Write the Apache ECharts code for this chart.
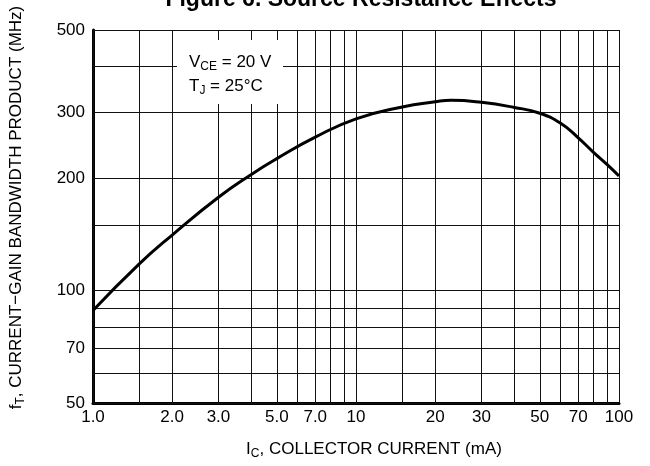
<!DOCTYPE html>
<html>
<head>
<meta charset="utf-8">
<script src="https://cdn.jsdelivr.net/npm/echarts@6/dist/echarts.min.js"></script>
<style>html,body{margin:0;padding:0;background:#fff}#c{width:650px;height:466px}</style>
</head>
<body>
<div id="c"></div>
<script>
// Curve data (IC in mA, fT in MHz)
var currentMA = [1.0, 1.5, 2.0, 3.0, 4.0, 5.0, 7.0, 10, 15, 20, 23, 30, 40, 50, 60, 70, 80, 90, 100];
var ftMHz     = [88.5, 118, 141, 178, 205, 226, 258, 289, 311, 321, 324, 320, 310, 299, 281, 257, 235, 218, 203];

// Grid lines and tick labels
var xGridValues = [1, 1.5, 2, 3, 4, 5, 6, 7, 8, 9, 10, 15, 20, 30, 40, 50, 60, 70, 80, 90, 100];
var yGridValues = [50, 60, 70, 80, 90, 100, 150, 200, 300, 400, 500];
var xTickValues = [1, 2, 3, 5, 7, 10, 20, 30, 50, 70, 100];
var xTickLabels = ['1.0', '2.0', '3.0', '5.0', '7.0', '10', '20', '30', '50', '70', '100'];
var yTickValues = [50, 70, 100, 200, 300, 500];
var yTickLabels = ['50', '70', '100', '200', '300', '500'];

var FONT = '"Liberation Sans", Arial, Helvetica, sans-serif';

var chart = echarts.init(document.getElementById('c'), null, {renderer: 'canvas'});

var gridMarks = [];
xGridValues.forEach(function (v) { gridMarks.push({xAxis: v}); });
yGridValues.forEach(function (v) { gridMarks.push({yAxis: v}); });

var option = {
  backgroundColor: '#fff',
  animation: false,
  title: {
    text: 'Figure 6. Source Resistance Effects',
    left: 356, top: -17, textAlign: 'center',
    textStyle: {fontFamily: FONT, fontWeight: 'bold', fontSize: 23, color: '#000'}
  },
  grid: {left: 87, right: 31, top: 30, bottom: 63},
  xAxis: {
    type: 'log', logBase: 10, min: 1, max: 100,
    name: '{m|I}{s|C}{m|, COLLECTOR CURRENT (mA)}',
    nameLocation: 'middle', nameGap: 36,
    nameTextStyle: {
      padding: [0, 0, 0, 36],
      rich: {
        m: {fontFamily: FONT, fontSize: 17, color: '#000'},
        s: {fontFamily: FONT, fontSize: 12, color: '#000', padding: [9, 0, 0, 0]}
      }
    },
    axisLine: {show: true, onZero: false, lineStyle: {color: '#000', width: 3}},
    axisTick: {show: false},
    splitLine: {show: false},
    minorSplitLine: {show: false},
    axisLabel: {
      customValues: xTickValues,
      formatter: function (v) { var i = xTickValues.indexOf(v); return i >= 0 ? xTickLabels[i] : ''; },
      fontFamily: FONT, fontSize: 17, color: '#000', margin: 6
    }
  },
  yAxis: {
    type: 'log', logBase: 10, min: 50, max: 500,
    name: '{m|f}{s|T}{m|, CURRENT\u2212GAIN BANDWIDTH PRODUCT (MHz)}',
    nameLocation: 'middle', nameGap: 66, nameRotate: 90,
    nameTextStyle: {
      padding: [0, 0, 0, 18],
      rich: {
        m: {fontFamily: FONT, fontSize: 17, color: '#000'},
        s: {fontFamily: FONT, fontSize: 12, color: '#000', padding: [9, 0, 0, 0]}
      }
    },
    axisLine: {show: true, onZero: false, lineStyle: {color: '#000', width: 3}},
    axisTick: {show: false},
    splitLine: {show: false},
    axisLabel: {
      customValues: yTickValues,
      formatter: function (v) { var i = yTickValues.indexOf(v); return i >= 0 ? yTickLabels[i] : ''; },
      fontFamily: FONT, fontSize: 17, color: '#000', margin: 8
    }
  },
  graphic: [
    {type: 'rect', z: 100, zlevel: 1, shape: {x: 177, y: 40, width: 106, height: 64}, style: {fill: '#fff'}},
    {type: 'text', z: 101, zlevel: 1, x: 189, y: 50, style: {
      text: '{m|V}{s|CE}{m| = 20 V}\n{m|T}{s|J}{m| = 25\u00b0C}',
      rich: {
        m: {fontFamily: FONT, fontSize: 17, color: '#000', lineHeight: 24},
        s: {fontFamily: FONT, fontSize: 12, color: '#000', lineHeight: 24, padding: [9, 0, 0, 0]}
      }
    }}
  ],
  series: [
    {
      type: 'line', data: [], z: 1, silent: true,
      markLine: {
        silent: true, symbol: ['none', 'none'], animation: false,
        label: {show: false},
        lineStyle: {color: '#111', width: 1, type: 'solid'},
        emphasis: {disabled: true},
        data: gridMarks
      }
    },
    {
      type: 'line', z: 5, smooth: 0.5, showSymbol: false, silent: true,
      lineStyle: {color: '#000', width: 3},
      data: currentMA.map(function (x, i) { return [x, ftMHz[i]]; })
    }
  ]
};
chart.setOption(option);
</script>
</body>
</html>
